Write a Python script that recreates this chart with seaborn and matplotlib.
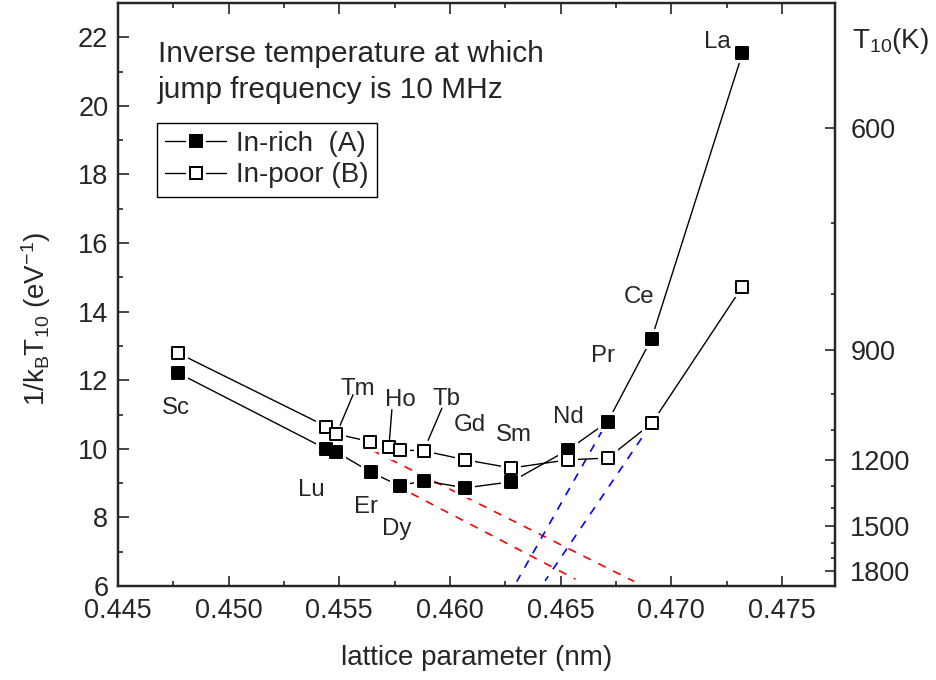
import matplotlib
matplotlib.use('Agg')
import matplotlib.pyplot as plt
import seaborn as sns
import pandas as pd
from matplotlib.lines import Line2D
from matplotlib.legend_handler import HandlerTuple
from matplotlib.ticker import MultipleLocator, FixedLocator, FormatStrFormatter

# ---------------- data ----------------
elements_A = ['Sc', 'Lu', 'Tm', 'Er', 'Dy', 'Tb', 'Gd', 'Sm', 'Nd', 'Pr', 'Ce', 'La']
lattice_A = [0.44772, 0.45442, 0.45484, 0.45642, 0.45773, 0.45881, 0.46070,
             0.46277, 0.46534, 0.46713, 0.46911, 0.47322]
inv_kT_A = [12.21, 9.99, 9.92, 9.32, 8.92, 9.07, 8.86, 9.04, 9.97, 10.79, 13.21, 21.54]

elements_B = ['Sc', 'Lu', 'Tm', 'Er', 'Ho', 'Dy', 'Tb', 'Gd', 'Sm', 'Nd', 'Pr', 'Ce', 'La']
lattice_B = [0.44772, 0.45442, 0.45487, 0.45640, 0.45724, 0.45776, 0.45881, 0.46070,
             0.46277, 0.46534, 0.46713, 0.46913, 0.47322]
inv_kT_B = [12.79, 10.65, 10.43, 10.21, 10.04, 9.97, 9.94, 9.68, 9.44, 9.68, 9.73, 10.75, 14.73]

# extrapolation (dashed) lines
red1_x, red1_y = [0.45660, 0.46833], [9.92, 6.13]
red2_x, red2_y = [0.45825, 0.46567], [8.70, 6.20]
blue1_x, blue1_y = [0.46690, 0.46302], [10.55, 6.13]
blue2_x, blue2_y = [0.46866, 0.46430], [10.31, 6.15]

T_major = [600, 900, 1200, 1500, 1800]
T_minor = [700, 800, 1000, 1100, 1300, 1400, 1600, 1700]
kB = 8.617333e-5  # eV/K

legend_labels = ['In-rich  (A)', 'In-poor (B)']
title_lines = ['Inverse temperature at which', 'jump frequency is 10 MHz']

# ---------------- style ----------------
sns.set_style('ticks')
plt.rcParams['font.family'] = ['Liberation Sans', 'DejaVu Sans']
plt.rcParams['mathtext.default'] = 'regular'

PX = 0.72  # points per pixel at dpi 100

fig = plt.figure(figsize=(9.36, 6.8), dpi=100)
ax = fig.add_axes([118 / 936, 94 / 680, 717 / 936, 583 / 680])

# dashed extrapolations
for xs, ys, c in [(red1_x, red1_y, '#ff0000'), (red2_x, red2_y, '#ff0000'),
                  (blue1_x, blue1_y, '#0000ff'), (blue2_x, blue2_y, '#0000ff')]:
    sns.lineplot(x=xs, y=ys, sort=False, color=c, lw=1.2, ax=ax, zorder=1.5,
                 linestyle=(0, (5, 5)), estimator=None)

dfA = pd.DataFrame({'a': lattice_A, 'inv': inv_kT_A})
dfB = pd.DataFrame({'a': lattice_B, 'inv': inv_kT_B})
sns.lineplot(data=dfA, x='a', y='inv', sort=False, estimator=None, color='black', lw=1.0, ax=ax, zorder=2)
sns.lineplot(data=dfB, x='a', y='inv', sort=False, estimator=None, color='black', lw=1.0, ax=ax, zorder=2)

# white halos so lines stop short of markers
halo_s = (20 * PX) ** 2
ax.scatter(lattice_A, inv_kT_A, s=halo_s, marker='s', color='white', linewidths=0, zorder=3)
ax.scatter(lattice_B, inv_kT_B, s=halo_s, marker='s', color='white', linewidths=0, zorder=3)

ms = 12.5 * PX
sns.scatterplot(data=dfA, x='a', y='inv', marker='s', s=ms ** 2, color='black',
                edgecolor='black', linewidth=1.4, ax=ax, zorder=4)
sns.scatterplot(data=dfB, x='a', y='inv', marker='s', s=ms ** 2, color='white',
                edgecolor='black', linewidth=1.4, ax=ax, zorder=5)

# element labels: (name, series, dx px, dy px)
label_specs = [('Sc', 'A', -2, -32), ('Lu', 'A', -15, -38), ('Er', 'A', -5, -32),
               ('Dy', 'A', -3, -41), ('Gd', 'B', 4, 37), ('Sm', 'B', 3, 36),
               ('Nd', 'A', 0, 35), ('Pr', 'A', -5, 68), ('Ce', 'A', -12, 44),
               ('La', 'A', -25, 14), ('Tm', 'B', 21, 48), ('Ho', 'B', 12, 50),
               ('Tb', 'B', 23, 54)]
series = {'A': (elements_A, lattice_A, inv_kT_A), 'B': (elements_B, lattice_B, inv_kT_B)}
for name, s, dx, dy in label_specs:
    els, xs, ys = series[s]
    i = els.index(name)
    ax.annotate(name, xy=(xs[i], ys[i]), xytext=(dx * PX, dy * PX), textcoords='offset points',
                ha='center', va='center_baseline', fontsize=17.3, zorder=6)

# leader lines: (name, series, start dx, dy px, end shrink px)
leader_specs = [('Tm', 'B', 16.6, 39.3, 9.5), ('Ho', 'B', 3, 37.7, 6),
                ('Tb', 'B', 18.3, 42.7, 11.5)]
for name, s, dx, dy, shr in leader_specs:
    els, xs, ys = series[s]
    i = els.index(name)
    ax.annotate('', xy=(xs[i], ys[i]), xytext=(dx * PX, dy * PX), textcoords='offset points',
                arrowprops=dict(arrowstyle='-', lw=1.0, color='black', shrinkA=0, shrinkB=shr * PX),
                zorder=6)

# legend
line_h = Line2D([], [], color='black', lw=1.0)
halo_h = Line2D([], [], marker='s', ms=20 * PX, color='white', ls='none', mew=0)
mA = Line2D([], [], marker='s', ms=ms, mfc='black', mec='black', mew=1.4, ls='none')
mB = Line2D([], [], marker='s', ms=ms, mfc='white', mec='black', mew=1.4, ls='none')
leg = ax.legend(handles=[(line_h, halo_h, mA), (line_h, halo_h, mB)], labels=legend_labels,
                handler_map={tuple: HandlerTuple(ndivide=1)}, loc='upper left',
                bbox_to_anchor=(0.054, 0.795), borderaxespad=0, frameon=True, fancybox=False,
                edgecolor='black', framealpha=1, fontsize=20, handlelength=2.2,
                handletextpad=0.35, borderpad=0.3, labelspacing=0.2)
leg.get_frame().set_linewidth(1.0)

# title text
ax.text(0.0558, (586 - 62) / 583, title_lines[0], transform=ax.transAxes, fontsize=21.5,
        ha='left', va='baseline')
ax.text(0.0558, (586 - 98) / 583, title_lines[1], transform=ax.transAxes, fontsize=21.5,
        ha='left', va='baseline')

# axes
ax.set_xlim(0.445, 0.4774)
ax.set_ylim(6, 23)
ax.xaxis.set_major_locator(MultipleLocator(0.005))
ax.xaxis.set_minor_locator(MultipleLocator(0.0025))
ax.xaxis.set_major_formatter(FormatStrFormatter('%.3f'))
ax.yaxis.set_major_locator(MultipleLocator(2))
ax.yaxis.set_minor_locator(MultipleLocator(1))
ax.tick_params(axis='x', which='both', direction='in', top=True, bottom=True, width=1.2,
               labelsize=19.5, pad=9)
ax.tick_params(axis='y', which='both', direction='in', left=True, right=False, width=1.2,
               labelsize=19.5, pad=7)
ax.tick_params(which='major', length=10.5 * PX)
ax.tick_params(which='minor', length=5 * PX)
for sp in ax.spines.values():
    sp.set_linewidth(1.6)
    sp.set_color('black')

ax.set_xlabel('lattice parameter (nm)', fontsize=20)
ax.xaxis.set_label_coords(0.5007, -0.101)
ax.set_ylabel(r'1/k$_\mathregular{B}$T$_\mathregular{10}$ (eV$^\mathregular{ -1}$)', fontsize=20)
ax.yaxis.set_label_coords(-0.09, 0.458)

ax2 = ax.twinx()
ax2.set_ylim(6, 23)
ax2.set_yticks([1 / (kB * T) for T in T_major])
ax2.set_yticklabels([str(T) for T in T_major])
ax2.yaxis.set_minor_locator(FixedLocator([1 / (kB * T) for T in T_minor]))
ax2.tick_params(axis='y', which='both', direction='in', width=1.2, labelsize=19.5, pad=11)
ax2.tick_params(which='major', length=10.5 * PX)
ax2.tick_params(which='minor', length=4.5 * PX)
for sp in ax2.spines.values():
    sp.set_linewidth(1.6)
ax.text(1.0237, (586 - 48) / 583, r'T$_\mathregular{10}$(K)', transform=ax.transAxes,
        fontsize=20, ha='left', va='baseline')

fig.savefig('out.png', dpi=100)
